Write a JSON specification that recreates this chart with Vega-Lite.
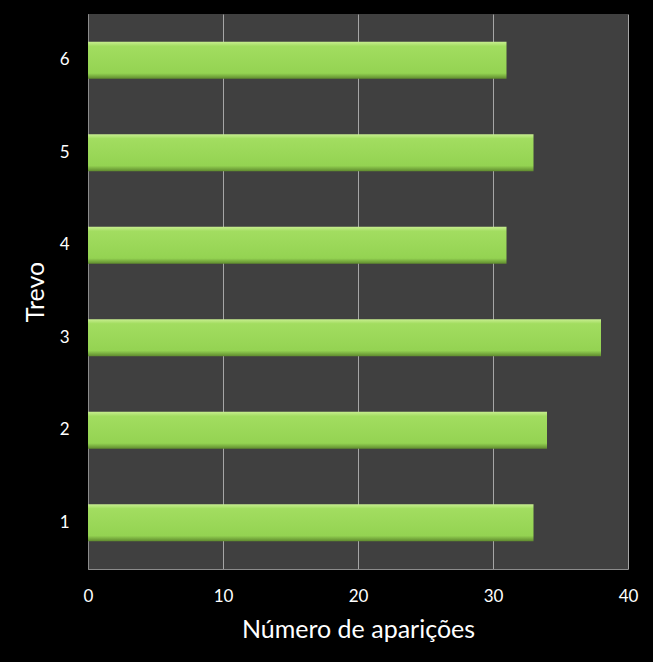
{
  "$schema": "https://vega.github.io/schema/vega-lite/v6.json",
  "width": 540,
  "height": 555,
  "autosize": {"type": "none"},
  "padding": {"left": 88, "top": 14, "right": 25, "bottom": 93},
  "background": "#000000",
  "view": {"fill": "#404040", "stroke": null},
  "data": {
    "values": [
      {"Trevo": "6", "Aparicoes": 31},
      {"Trevo": "5", "Aparicoes": 33},
      {"Trevo": "4", "Aparicoes": 31},
      {"Trevo": "3", "Aparicoes": 38},
      {"Trevo": "2", "Aparicoes": 34},
      {"Trevo": "1", "Aparicoes": 33}
    ]
  },
  "mark": {
    "type": "bar",
    "color": {
      "gradient": "linear",
      "x1": 0, "y1": 0, "x2": 0, "y2": 1,
      "stops": [
        {"offset": 0, "color": "#c8ee90"},
        {"offset": 0.12, "color": "#a2dd60"},
        {"offset": 0.85, "color": "#94d352"},
        {"offset": 1, "color": "#5f8a2e"}
      ]
    }
  },
  "encoding": {
    "y": {
      "field": "Trevo",
      "type": "nominal",
      "sort": ["6", "5", "4", "3", "2", "1"],
      "scale": {"paddingInner": 0.6, "paddingOuter": 0.3},
      "title": "Trevo",
      "axis": {
        "domain": true,
        "domainColor": "#8c8c8c",
        "ticks": false,
        "labelPadding": 19,
        "labelAngle": 0,
        "labelColor": "#ffffff",
        "labelFont": "Lato",
        "labelFontSize": 17,
        "titleColor": "#ffffff",
        "titleFont": "Lato",
        "titleFontSize": 25,
        "titleFontWeight": "normal",
        "titlePadding": 11
      }
    },
    "x": {
      "field": "Aparicoes",
      "type": "quantitative",
      "scale": {"domain": [0, 40]},
      "title": "Número de aparições",
      "axis": {
        "values": [0, 10, 20, 30, 40],
        "grid": true,
        "gridColor": "#a6a6a6",
        "gridWidth": 1,
        "domain": true,
        "domainColor": "#8c8c8c",
        "ticks": false,
        "labelFlush": false,
        "labelPadding": 19,
        "labelColor": "#ffffff",
        "labelFont": "Lato",
        "labelFontSize": 17,
        "titleColor": "#ffffff",
        "titleFont": "Lato",
        "titleFontSize": 25,
        "titleFontWeight": "normal",
        "titlePadding": 13
      }
    }
  }
}
